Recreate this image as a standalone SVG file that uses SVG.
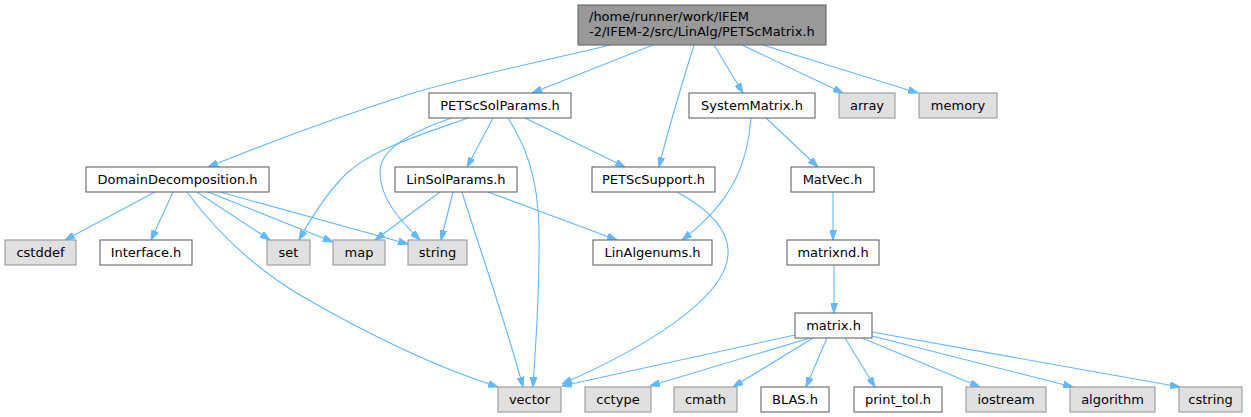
<svg xmlns="http://www.w3.org/2000/svg" width="1251" height="417" viewBox="0 0 1251 417">
<style>
text{font-family:"DejaVu Sans","Liberation Sans",sans-serif;font-size:13px;fill:#000}
.n rect{fill:#fff;stroke:#666;stroke-width:1.1}
.g rect{fill:#e0e0e0;stroke:#999;stroke-width:1.1}
.r rect{fill:#999;stroke:#666;stroke-width:1.1}
.n text,.g text{text-anchor:middle}
#edges path{fill:none;stroke:#63b8ff;stroke-width:1.1}
</style>
<defs>
<marker id="a" viewBox="0 0 10 7" refX="10" refY="3.5" markerWidth="10" markerHeight="7" markerUnits="userSpaceOnUse" orient="auto">
<path d="M0,0 L10,3.5 L0,7 z" fill="#63b8ff" stroke="#63b8ff" stroke-width="1"/>
</marker>
</defs>
<g id="edges">
<path marker-end="url(#a)" d="M610,45 C540,62 470,76 413,93 C340,116 260,146 208,167"/>
<path marker-end="url(#a)" d="M653,45 L532,93"/>
<path marker-end="url(#a)" d="M694,45 C680,90 668,130 659,167"/>
<path marker-end="url(#a)" d="M714,45 L743,93"/>
<path marker-end="url(#a)" d="M742,45 L843,93"/>
<path marker-end="url(#a)" d="M763,45 L918,93"/>
<path marker-end="url(#a)" d="M468,118 C420,135 370,150 345,175 C325,195 310,220 299,240"/>
<path marker-end="url(#a)" d="M452,118 C410,132 380,150 380,172 C380,200 402,222 420,240"/>
<path marker-end="url(#a)" d="M493,118 L467,167"/>
<path marker-end="url(#a)" d="M508,118 C525,145 538,175 539,230 C540,300 535,350 533,387"/>
<path marker-end="url(#a)" d="M525,118 L625,167"/>
<path marker-end="url(#a)" d="M155,192 L65,240"/>
<path marker-end="url(#a)" d="M173,192 L151,240"/>
<path marker-end="url(#a)" d="M187,192 C215,230 250,265 300,295 C360,330 430,365 498,387"/>
<path marker-end="url(#a)" d="M197,192 L270,240"/>
<path marker-end="url(#a)" d="M208,192 L333,242"/>
<path marker-end="url(#a)" d="M220,192 L408,244"/>
<path marker-end="url(#a)" d="M440,192 L375,240"/>
<path marker-end="url(#a)" d="M453,192 L441,240"/>
<path marker-end="url(#a)" d="M462,192 C480,250 505,320 523,387"/>
<path marker-end="url(#a)" d="M488,192 L617,240"/>
<path marker-end="url(#a)" d="M677,192 C710,210 730,230 728,255 C725,300 640,350 562,384"/>
<path marker-end="url(#a)" d="M751,118 C748,160 735,200 682,240"/>
<path marker-end="url(#a)" d="M766,118 L818,167"/>
<path marker-end="url(#a)" d="M833,192 L833,240"/>
<path marker-end="url(#a)" d="M834,265 L834,313"/>
<path marker-end="url(#a)" d="M795,335 L562,386"/>
<path marker-end="url(#a)" d="M810,338 L650,386"/>
<path marker-end="url(#a)" d="M813,338 L733,387"/>
<path marker-end="url(#a)" d="M827,338 L806,387"/>
<path marker-end="url(#a)" d="M845,338 L875,387"/>
<path marker-end="url(#a)" d="M862,338 L980,387"/>
<path marker-end="url(#a)" d="M872,336 L1073,387"/>
<path marker-end="url(#a)" d="M872,332 L1180,387"/>
</g>
<g id="root" class="r"><rect x="578" y="5" width="248" height="40"/><text x="589" y="21">/home/runner/work/IFEM</text><text x="589" y="36">-2/IFEM-2/src/LinAlg/PETScMatrix.h</text></g>
<g id="PETScSolParams" class="n"><rect x="429" y="93" width="142" height="25"/><text x="500" y="110">PETScSolParams.h</text></g>
<g id="SystemMatrix" class="n"><rect x="689" y="93" width="126" height="25"/><text x="752" y="110">SystemMatrix.h</text></g>
<g id="array" class="g"><rect x="839" y="93" width="56" height="25"/><text x="867" y="110">array</text></g>
<g id="memory" class="g"><rect x="919" y="93" width="78" height="25"/><text x="958" y="110">memory</text></g>
<g id="DomainDecomposition" class="n"><rect x="86" y="167" width="183" height="25"/><text x="177.5" y="184">DomainDecomposition.h</text></g>
<g id="LinSolParams" class="n"><rect x="395" y="167" width="122" height="25"/><text x="456" y="184">LinSolParams.h</text></g>
<g id="PETScSupport" class="n"><rect x="592" y="167" width="123" height="25"/><text x="653.5" y="184">PETScSupport.h</text></g>
<g id="MatVec" class="n"><rect x="791" y="167" width="83" height="25"/><text x="832.5" y="184">MatVec.h</text></g>
<g id="cstddef" class="g"><rect x="5" y="240" width="71" height="25"/><text x="40.5" y="257">cstddef</text></g>
<g id="Interface" class="n"><rect x="100" y="240" width="92" height="25"/><text x="146" y="257">Interface.h</text></g>
<g id="set" class="g"><rect x="267" y="240" width="43" height="25"/><text x="288.5" y="257">set</text></g>
<g id="map" class="g"><rect x="333" y="240" width="52" height="25"/><text x="359" y="257">map</text></g>
<g id="string" class="g"><rect x="408" y="240" width="59" height="25"/><text x="437.5" y="257">string</text></g>
<g id="LinAlgenums" class="n"><rect x="593" y="240" width="119" height="25"/><text x="652.5" y="257">LinAlgenums.h</text></g>
<g id="matrixnd" class="n"><rect x="787" y="240" width="92" height="25"/><text x="833" y="257">matrixnd.h</text></g>
<g id="matrix" class="n"><rect x="795" y="313" width="77" height="25"/><text x="833.5" y="330">matrix.h</text></g>
<g id="vector" class="g"><rect x="498" y="387" width="63" height="25"/><text x="529.5" y="404">vector</text></g>
<g id="cctype" class="g"><rect x="585" y="387" width="66" height="25"/><text x="618" y="404">cctype</text></g>
<g id="cmath" class="g"><rect x="674" y="387" width="63" height="25"/><text x="705.5" y="404">cmath</text></g>
<g id="BLAS" class="n"><rect x="761" y="387" width="68" height="25"/><text x="795" y="404">BLAS.h</text></g>
<g id="print_tol" class="n"><rect x="854" y="387" width="88" height="25"/><text x="898" y="404">print_tol.h</text></g>
<g id="iostream" class="g"><rect x="966" y="387" width="80" height="25"/><text x="1006" y="404">iostream</text></g>
<g id="algorithm" class="g"><rect x="1070" y="387" width="85" height="25"/><text x="1112.5" y="404">algorithm</text></g>
<g id="cstring" class="g"><rect x="1179" y="387" width="63" height="25"/><text x="1210.5" y="404">cstring</text></g>
</svg>
